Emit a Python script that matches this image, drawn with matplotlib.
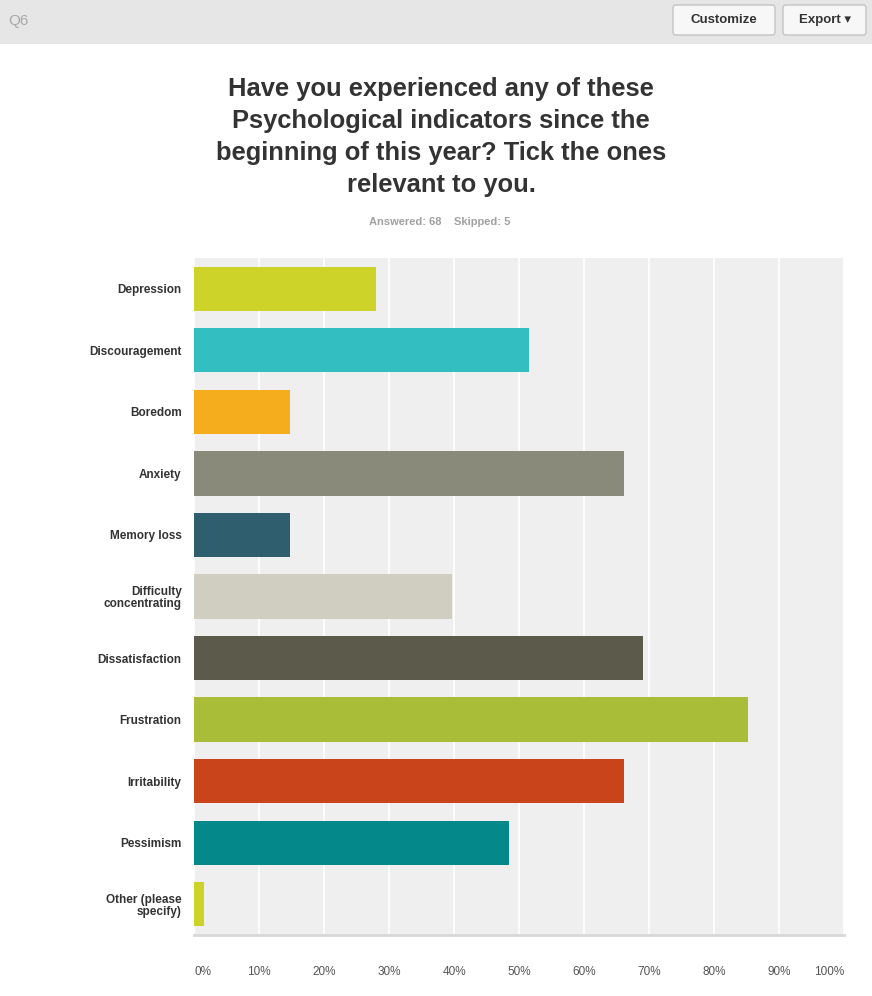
import matplotlib.pyplot as plt
from matplotlib.patches import Rectangle, FancyBboxPatch

W, H = 872, 996

categories = ["Depression", "Discouragement", "Boredom", "Anxiety", "Memory loss",
              "Difficulty\nconcentrating", "Dissatisfaction", "Frustration",
              "Irritability", "Pessimism", "Other (please\nspecify)"]
counts = [19, 35, 10, 45, 10, 27, 47, 58, 45, 33, 1]
answered = 68
skipped = 5
colors = ["#cdd329", "#33bec1", "#f6ad1d", "#898a79", "#2f5e6e", "#d0cec1",
          "#5b5a4b", "#a9bd38", "#c9441b", "#04888a", "#cdd329"]
ticks = [0, 10, 20, 30, 40, 50, 60, 70, 80, 90, 100]

percents = [c / answered * 100 for c in counts]


def fx(x):
  return x / W


def fy(y):
  return 1 - y / H


plt.rcParams['font.family'] = ['Liberation Sans', 'DejaVu Sans']
fig = plt.figure(figsize=(W / 100, H / 100), dpi=100)
fig.patch.set_facecolor("white")

# header strip
fig.patches.append(Rectangle((0, fy(44)), 1, 44 / H, transform=fig.transFigure,
                             facecolor="#e6e6e6", edgecolor="none"))
fig.text(fx(8), fy(21), "Q6", color="#a8a8a8", fontsize=11, va="center", ha="left")
for x0, x1, label in [(673, 775, "Customize"), (783, 866, "Export \u25be")]:
  fig.patches.append(FancyBboxPatch((fx(x0), fy(35)), fx(x1 - x0), 30 / H,
                                    boxstyle="round,pad=0,rounding_size=0.003",
                                    transform=fig.transFigure,
                                    facecolor="#f7f7f7", edgecolor="#c4c4c4", lw=1))
  fig.text(fx((x0 + x1) / 2), fy(20), label, color="#333333", fontsize=9.5,
           fontweight="bold", ha="center", va="center")

# title
title = ("Have you experienced any of these\nPsychological indicators since the\n"
         "beginning of this year? Tick the ones\nrelevant to you.")
fig.text(fx(441), fy(137), title, ha="center", va="center", fontsize=18.4,
         fontweight="bold", color="#333333", linespacing=1.42)
fig.text(fx(440), fy(222), f"Answered: {answered}    Skipped: {skipped}",
         ha="center", va="center", fontsize=8, fontweight="bold", color="#a0a0a0")

# chart
ax = fig.add_axes([fx(194), fy(935), fx(844 - 194), (935 - 258) / H])
ax.set_facecolor("#efefef")
ypos = list(range(len(categories)))
ax.barh(ypos, percents, height=0.72, color=colors, zorder=3)
ax.set_xlim(0, 100)
ax.set_ylim(len(categories) - 0.5, -0.5)
ax.set_xticks(ticks)
ax.set_xticklabels([f"{t}%" for t in ticks], fontsize=8.5, color="#555555")
xl = ax.get_xticklabels()
xl[0].set_ha("left")
xl[-1].set_ha("right")
ax.set_yticks(ypos)
ax.set_yticklabels(categories, fontsize=8.5, fontweight="bold", color="#333333",
                   linespacing=1.0)
ax.grid(axis="x", color="white", lw=1.2, zorder=1)
ax.tick_params(length=0)
ax.tick_params(axis="x", pad=22)
ax.tick_params(axis="y", pad=9)
for s in ["top", "right", "left"]:
  ax.spines[s].set_visible(False)
ax.spines["bottom"].set_color("#d8d8d8")
ax.spines["bottom"].set_linewidth(2)

plt.savefig("out.png", dpi=100)
